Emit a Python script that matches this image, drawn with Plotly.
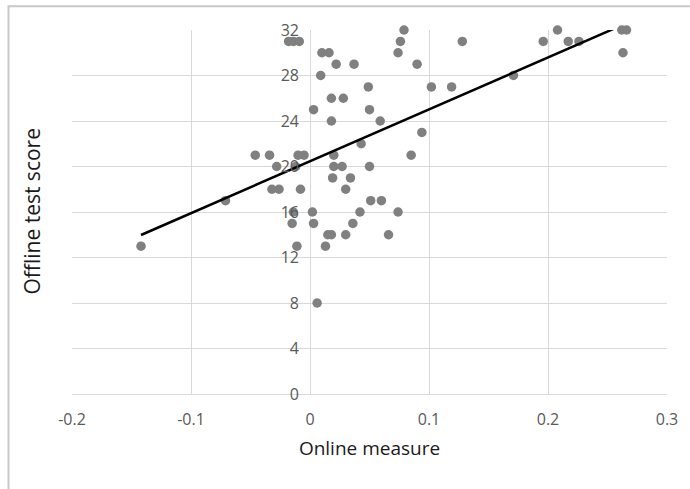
import numpy as np
import plotly.graph_objects as go

online_measure = [-0.142, -0.071, -0.046, -0.034, -0.010, -0.005, -0.028, -0.012,
                  -0.032, -0.026, -0.008, -0.014, 0.002, -0.015, 0.003, -0.011,
                  0.013, 0.015, 0.018, 0.030, 0.066, 0.006, -0.018, -0.014,
                  -0.009, 0.010, 0.016, 0.009, 0.022, 0.037, 0.090, 0.003,
                  0.018, 0.028, 0.018, 0.050, 0.049, 0.102, 0.119, 0.059,
                  0.094, 0.043, 0.020, 0.085, 0.020, 0.027, 0.050, 0.019,
                  0.034, 0.030, 0.051, 0.060, 0.042, 0.074, 0.036, 0.079,
                  0.076, 0.074, 0.128, 0.171, 0.208, 0.196, 0.217, 0.226,
                  0.262, 0.266, 0.263]
offline_score = [13, 17, 21, 21, 21, 21, 20, 20,
                 18, 18, 18, 16, 16, 15, 15, 13,
                 13, 14, 14, 14, 14, 8, 31, 31,
                 31, 30, 30, 28, 29, 29, 29, 25,
                 26, 26, 24, 25, 27, 27, 27, 24,
                 23, 22, 21, 21, 20, 20, 20, 19,
                 19, 18, 17, 17, 16, 16, 15, 32,
                 31, 30, 31, 28, 32, 31, 31, 31,
                 32, 32, 30]

x_ticks = [-0.2, -0.1, 0, 0.1, 0.2, 0.3]
y_ticks = [0, 4, 8, 12, 16, 20, 24, 28, 32]

x = np.array(online_measure)
y = np.array(offline_score)
slope, intercept = np.polyfit(x, y, 1)
tx = np.array([x.min(), x.max()])
ty = slope * tx + intercept

fig = go.Figure()
fig.add_trace(go.Scatter(x=online_measure, y=offline_score, mode="markers",
                         marker=dict(color="#808080", size=9.5), showlegend=False,
                         cliponaxis=False))
fig.add_trace(go.Scatter(x=tx, y=ty, mode="lines",
                         line=dict(color="black", width=2.5), showlegend=False))

grid = "#d9d9d9"
fig.update_layout(
    width=690, height=489,
    margin=dict(l=72, r=23, t=30, b=95),
    paper_bgcolor="white", plot_bgcolor="white",
    font=dict(family="Open Sans, Noto Sans, sans-serif", color="#595959", size=16),
    xaxis=dict(range=[-0.2, 0.3], tickvals=x_ticks,
               ticktext=[f"{v:g}" for v in x_ticks],
               showgrid=True, gridcolor=grid, gridwidth=1,
               zeroline=True, zerolinecolor=grid, zerolinewidth=1,
               showline=False, ticks="", ticklabelstandoff=14,
               title=dict(text="Online measure", font=dict(size=19, color="#1a1a1a"),
                          standoff=12)),
    yaxis=dict(range=[0, 32], tickvals=y_ticks, anchor="free", position=0.4,
               showgrid=True, gridcolor=grid, gridwidth=1,
               zeroline=True, zerolinecolor=grid, zerolinewidth=1,
               showline=False, ticks="", ticklabelstandoff=11,
               layer="above traces"),
    annotations=[dict(text="Offline test score", xref="paper", yref="paper",
                      x=-0.068, y=0.5, xanchor="center", yanchor="middle",
                      textangle=-90, showarrow=False,
                      font=dict(size=21, color="#1a1a1a"))],
    shapes=[dict(type="rect", xref="paper", yref="paper",
                 x0=-0.1067, y0=-0.4, x1=1.1, y1=1.065,
                 line=dict(color="#c8c8c8", width=2), layer="above")],
)

fig.write_html("out.html")
